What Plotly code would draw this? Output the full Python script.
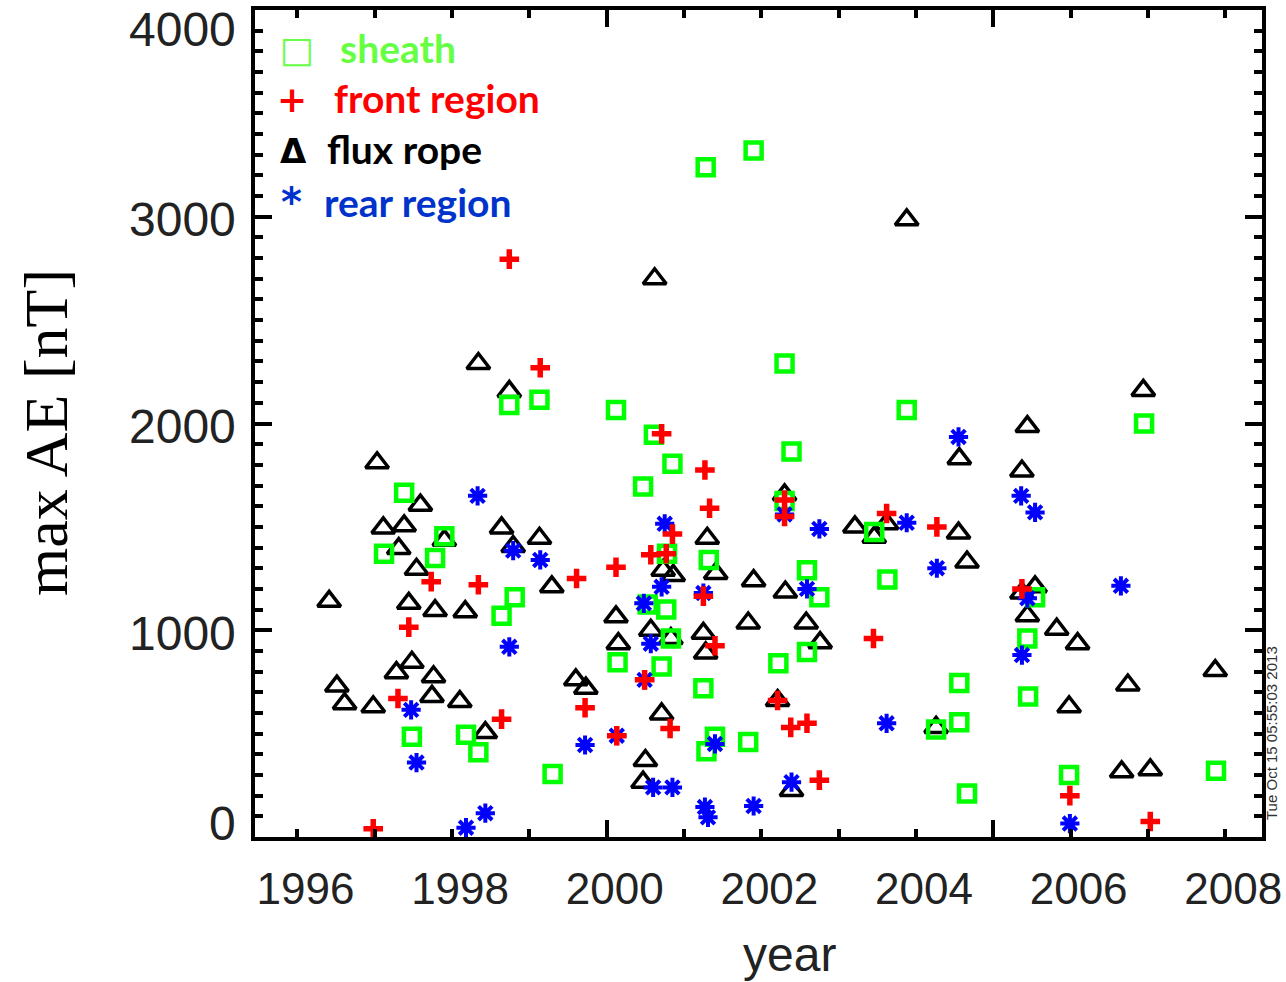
import plotly.graph_objects as go

# ---------------- data: event year and maximum AE index [nT] ----------------
sheath_year = [1998.74, 1999.13, 1997.38, 1997.12, 1997.90, 1997.78, 1998.81, 1998.64,
               1997.48, 1998.18, 1998.34, 1999.30, 2000.12, 2000.61, 2000.85, 2000.47,
               2000.78, 2001.32, 2000.77, 2000.53, 2002.59, 2002.75, 2003.63, 2000.14,
               2000.71, 2000.83, 2002.59, 2002.22, 2001.25, 2001.40, 2001.29, 2001.83,
               2001.28, 2001.90, 2002.30, 2003.88, 2002.39, 2002.30, 2003.46, 2004.26,
               2004.56, 2004.56, 2004.66, 2005.44, 2005.45, 2005.54, 2005.98, 2006.95,
               2007.88]
sheath_ae = [2090, 2115, 1665, 1370, 1455, 1350, 1160, 1070,
             485, 495, 410, 305, 2065, 1945, 1805, 1695,
             1370, 1340, 1100, 1125, 1290, 1160, 1245, 845,
             825, 960, 895, 840, 720, 485, 415, 460,
             3240, 3320, 2290, 2065, 1865, 1625, 1475, 520,
             555, 745, 210, 960, 680, 1160, 300, 2000,
             320]

front_year = [1998.74, 1999.14, 1997.73, 1998.34, 1999.61, 1997.44, 1997.30, 1998.64,
              1999.72, 1996.98, 2000.71, 2001.27, 2001.33, 2002.30, 2002.30, 2003.62,
              2004.27, 2000.85, 2000.57, 2000.77, 2000.12, 2001.25, 2001.40, 2000.49,
              2000.82, 2002.21, 2002.38, 2002.59, 2000.13, 2002.75, 2003.45, 2005.37,
              2005.99, 2007.03]
front_ae = [2795, 2270, 1235, 1220, 1250, 1015, 670, 570,
            625, 40, 1950, 1775, 1590, 1630, 1550, 1565,
            1500, 1465, 1365, 1370, 1305, 1165, 925, 760,
            525, 660, 530, 550, 490, 275, 960, 1200,
            200, 75]

rope_year = [1998.34, 1998.74, 1997.03, 1997.59, 1997.11, 1997.38, 1998.64, 1999.13,
             1997.90, 1997.31, 1998.79, 1997.54, 1999.29, 1996.41, 1997.44, 1997.78,
             1998.17, 1996.51, 1996.61, 1996.98, 1997.28, 1997.48, 1997.76, 1997.74,
             1998.10, 1998.43, 1999.60, 1999.73, 2000.62, 2003.88, 2002.30, 2003.21,
             2003.46, 2003.62, 2001.30, 2000.73, 2000.86, 2001.41, 2001.90, 2002.31,
             2000.12, 2000.57, 2000.83, 2000.15, 2001.83, 2001.25, 2001.28, 2002.58,
             2002.76, 2000.71, 2002.21, 2004.26, 2000.50, 2000.47, 2002.39, 2005.44,
             2006.94, 2004.56, 2005.37, 2004.55, 2004.66, 2005.54, 2005.37, 2005.44,
             2005.82, 2006.09, 2005.98, 2006.74, 2007.87, 2006.66, 2007.03]
rope_ae = [2290, 2155, 1810, 1605, 1495, 1505, 1495, 1445,
           1435, 1395, 1405, 1295, 1210, 1140, 1130, 1095,
           1090, 730, 645, 630, 795, 845, 775, 680,
           655, 505, 760, 720, 2700, 2985, 1655, 1500,
           1450, 1515, 1445, 1290, 1265, 1275, 1240, 1185,
           1065, 1000, 960, 935, 1035, 985, 890, 1035,
           940, 595, 660, 530, 370, 265, 225, 1985,
           2160, 1830, 1770, 1470, 1330, 1210, 1180, 1070,
           1005, 935, 630, 735, 805, 315, 325]

rear_year = [1998.33, 1998.79, 1999.14, 1998.74, 1997.47, 1997.54, 1999.72, 1998.43,
             1998.18, 2002.30, 2002.75, 2003.88, 2004.27, 2000.75, 2000.71, 2000.48,
             2001.25, 2002.59, 2000.57, 2000.49, 2000.13, 2001.40, 2000.60, 2000.85,
             2002.39, 2001.27, 2001.31, 2001.90, 2003.62, 2004.55, 2005.36, 2005.54,
             2005.44, 2005.37, 2005.99, 2006.65]
rear_ae = [1650, 1385, 1340, 920, 615, 360, 445, 115,
           45, 1560, 1490, 1520, 1300, 1515, 1210, 1130,
           1180, 1200, 935, 760, 490, 450, 240, 240,
           265, 145, 95, 150, 550, 1935, 1650, 1570,
           1155, 880, 65, 1215]

year_ticks = [1996, 1998, 2000, 2002, 2004, 2006, 2008]
ae_ticks = [0, 1000, 2000, 3000, 4000]

legend_symbols = ["\u25a1", "+", "\u0394", "*"]
legend_labels = ["sheath", "front region", "flux rope", "rear region"]
legend_colors = ["#66ff44", "#ff0000", "#000000", "#0033cc"]

# ---------------- canvas geometry ----------------
W, H = 1286, 982
ML, MR, MT, MB = 255, 24, 10, 145
PW, PH = W - ML - MR, H - MT - MB
X_RANGE = [1995.451, 2008.475]
Y_RANGE = [0, 4000]


def px(x):
    return (x - ML) / PW


def py(y):
    return (MT + PH - y) / PH


fig = go.Figure()

# drawing order: flux rope, sheath, rear region, front region on top
fig.add_trace(go.Scatter(
    x=rope_year, y=rope_ae, mode="markers", name="flux rope",
    marker=dict(symbol="triangle-up-open", size=20, color="#000000",
                line=dict(width=3.5)),
))
fig.add_trace(go.Scatter(
    x=sheath_year, y=sheath_ae, mode="markers", name="sheath",
    marker=dict(symbol="square-open", size=16, color="#00ff00",
                line=dict(width=4.5)),
))
fig.add_trace(go.Scatter(
    x=rear_year, y=rear_ae, mode="markers", name="rear region",
    marker=dict(symbol="asterisk-open", size=16, color="#0000ff",
                line=dict(width=4)),
))
fig.add_trace(go.Scatter(
    x=front_year, y=front_ae, mode="markers", name="front region",
    marker=dict(symbol="cross-thin-open", size=14, color="#ff0000",
                line=dict(width=5.5)),
))
# carrier for the year label axis (draws nothing)
fig.add_trace(go.Scatter(
    x=year_ticks, y=[None] * len(year_ticks), xaxis="x2", yaxis="y",
    mode="markers", hoverinfo="skip", showlegend=False,
))

axis_common = dict(
    showgrid=False, zeroline=False, showline=True, linecolor="black",
    linewidth=4, mirror="ticks", ticks="inside", tickcolor="black",
    tickwidth=3.5, showticklabels=False, automargin=False,
)

annotations = []

# y tick labels (end labels kept inside the frame height)
for v in ae_ticks:
    if v == Y_RANGE[1]:
        anchor, shift = "top", 9
    elif v == Y_RANGE[0]:
        anchor, shift = "middle", 14
    else:
        anchor, shift = "middle", -3
    annotations.append(dict(
        text=str(v), x=0, xref="paper", xanchor="right", xshift=-17,
        y=v, yref="y", yanchor=anchor, yshift=shift, showarrow=False,
        font=dict(family="Liberation Sans", size=48, color="#222222"),
    ))

# axis titles
annotations.append(dict(
    text="year", x=px(789), y=py(954), xref="paper", yref="paper",
    xanchor="center", yanchor="middle", showarrow=False,
    font=dict(family="Liberation Sans", size=48, color="#222222"),
))
annotations.append(dict(
    text="max AE [nT]", x=px(46), y=py(433), xref="paper", yref="paper",
    xanchor="center", yanchor="middle", textangle=-90, showarrow=False,
    font=dict(family="Liberation Serif", size=62, color="#000000"),
))

# legend
sym_x = [297, 292, 293, 291]
sym_y = [50, 100, 151, 202]
text_x = [338, 332, 325, 322]
text_y = [48, 98, 149, 202]
sym_size = [36, 36, 34, 40]
for i, label in enumerate(legend_labels):
    annotations.append(dict(
        text=legend_symbols[i], x=px(sym_x[i]), y=py(sym_y[i]),
        xref="paper", yref="paper", xanchor="center", yanchor="middle",
        showarrow=False,
        font=dict(family="DejaVu Sans", size=sym_size[i], color=legend_colors[i],
                  weight="bold" if i > 0 else "normal"),
    ))
    annotations.append(dict(
        text="<b>%s</b>" % label, x=px(text_x[i]), y=py(text_y[i]),
        xref="paper", yref="paper", xanchor="left", yanchor="middle",
        showarrow=False,
        font=dict(family="Lato", size=39, color=legend_colors[i]),
    ))

# plot time stamp
annotations.append(dict(
    text="Tue Oct 15 05:55:03 2013", x=px(1271), y=py(733),
    xref="paper", yref="paper", xanchor="center", yanchor="middle",
    textangle=-90, showarrow=False,
    font=dict(family="Liberation Sans", size=15, color="#333333"),
))

fig.update_layout(
    width=W, height=H,
    margin=dict(l=ML, r=MR, t=MT, b=MB, pad=0, autoexpand=False),
    paper_bgcolor="white", plot_bgcolor="white",
    showlegend=False,
    xaxis=dict(
        range=X_RANGE, tickmode="linear", tick0=1995, dtick=5, ticklen=17,
        minor=dict(dtick=1, tick0=1995, ticklen=8, tickwidth=3.5,
                   tickcolor="black", ticks="inside"),
        **axis_common,
    ),
    xaxis2=dict(
        range=X_RANGE, overlaying="x", anchor="y", side="bottom",
        showgrid=False, zeroline=False, showline=False, ticks="",
        automargin=False,
        tickmode="array", tickvals=year_ticks,
        ticktext=[str(t) for t in year_ticks],
        ticklabelshift=8, ticklabelstandoff=22,
        tickfont=dict(family="Liberation Sans", size=44, color="#222222"),
    ),
    yaxis=dict(
        range=Y_RANGE, tickmode="linear", tick0=0, dtick=1000, ticklen=17,
        minor=dict(dtick=100, ticklen=8, tickwidth=3.5, tickcolor="black",
                   ticks="inside"),
        **axis_common,
    ),
    annotations=annotations,
)

fig.write_html("out.html")
